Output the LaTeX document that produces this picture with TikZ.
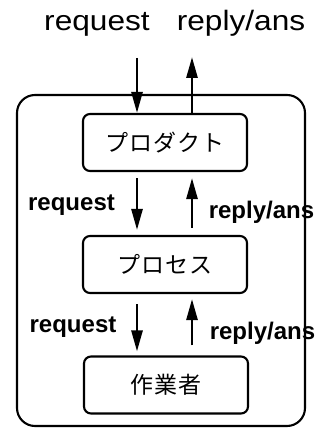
\documentclass[tikz,border=0pt]{standalone}
\usepackage{fontspec}
\usetikzlibrary{arrows.meta}
\newfontfamily\labfont{Liberation Sans}
\newfontfamily\jpfont[LetterSpace=5]{Noto Sans CJK JP}
\begin{document}
\begin{tikzpicture}[x=1pt,y=-1pt,
  stage/.style={draw,line width=2.1pt,rounded corners=7pt,minimum width=164pt,
    minimum height=57pt,inner sep=0pt,font=\jpfont\fontsize{23}{23}\selectfont},
  flow/.style={line width=2.7pt,-{Triangle[length=21pt,width=11pt]}},
  toplab/.style={inner sep=0pt,anchor=base,font=\labfont\fontsize{28}{28}\selectfont},
  sidelab/.style={inner sep=0pt,anchor=base,font=\labfont\bfseries\fontsize{24}{24}\selectfont}]
\useasboundingbox (0,0) rectangle (322,430);
% enclosing frame
\draw[line width=2.1pt,rounded corners=18pt] (17,95) rectangle (305,426);
% the three stages
\node[stage] (p) at (165,142.5) {プロダクト};
\node[stage] (s) at (165,264.5) {プロセス};
\node[stage] (w) at (166,385) {作業者};
% columns of the downward and upward flows
\coordinate (colA) at (137,0);
\coordinate (colB) at (192,0);
\coordinate (reqin) at (137,58);
\coordinate (repout) at (192,57);
% into and out of the frame
\draw[flow] (reqin) -- (reqin |- p.north);
\draw[flow] (repout |- p.north) -- (repout);
% between product and process
\draw[flow,shorten <=6pt,shorten >=5pt] (p.south -| colA) -- (s.north -| colA);
\draw[flow,shorten <=7pt,shorten >=6pt] (s.north -| colB) -- (p.south -| colB);
% between process and worker
\draw[flow,shorten <=10pt,shorten >=4pt] (s.south -| colA) -- (w.north -| colA);
\draw[flow,shorten <=10pt,shorten >=5pt] (w.north -| colB) -- (s.south -| colB);
% labels
\node[toplab] (t1) at (97,31) {\scalebox{1.13}[1]{request}};
\node[toplab] (t2) at (241,31) {\scalebox{1.13}[1]{reply/ans}};
\node[sidelab] (l1) at (71.5,210) {request};
\node[sidelab] (l2) at (261.5,218) {reply/ans};
\node[sidelab] (l3) at (73,332) {request};
\node[sidelab] (l4) at (262.5,339) {reply/ans};
\end{tikzpicture}
\end{document}
